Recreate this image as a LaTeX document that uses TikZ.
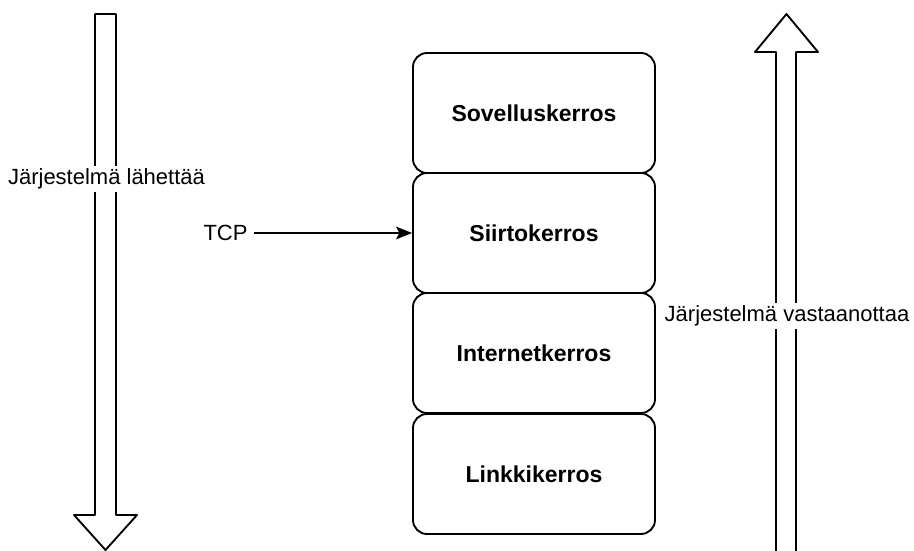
\documentclass[tikz,border=0pt]{standalone}
\usepackage{fontspec}
\setmainfont{Liberation Sans}
\usetikzlibrary{arrows.meta}
\begin{document}
\begin{tikzpicture}[x=0.75pt,y=-0.75pt,
  line width=1.4pt, line join=round,
  layer/.style={draw, rounded corners=10.5pt, minimum width=181.5pt,
    minimum height=90pt, inner sep=0pt,
    font=\fontsize{17.25}{20}\selectfont\bfseries},
  plain/.style={font=\fontsize{16.5}{20}\selectfont, inner sep=0pt},
  flowlabel/.style={plain, fill=white, inner xsep=0pt, inner ysep=2pt},
  bigarrow/.style={draw, line width=1.4pt, fill=white}
]
\useasboundingbox (0,0) rectangle (914,550);

% protocol stack
\node[layer] (sovellus) at (534,113) {Sovelluskerros};
\node[layer] (siirto)   at (534,233) {Siirtokerros};
\node[layer] (internet) at (534,353) {Internetkerros};
\node[layer] (linkki)   at (534,474) {Linkkikerros};

% TCP pointer into the transport layer
\node[plain, inner xsep=4.5pt] (tcp) at (225.5,233) {TCP};
\draw[-{Stealth[length=12pt,width=9.5pt,inset=2.5pt]}, line width=1.3pt]
  (tcp.east) -- (tcp.east -| siirto.west);

% sending side: hollow arrow pointing down
\draw[bigarrow] (95,515) -- (95,14) -- (116,14) -- (116,515)
  -- (137,515) -- (105.5,550) -- (74,515) -- cycle;
\node[flowlabel] (send) at (106.5,179) {Järjestelmä lähettää};

% receiving side: hollow arrow pointing up
\draw[bigarrow] (776,552) -- (776,52) -- (755,52) -- (786.5,14)
  -- (818,52) -- (796,52) -- (796,552);
\node[flowlabel] (recv) at (787,316) {Järjestelmä vastaanottaa};
\end{tikzpicture}
\end{document}
